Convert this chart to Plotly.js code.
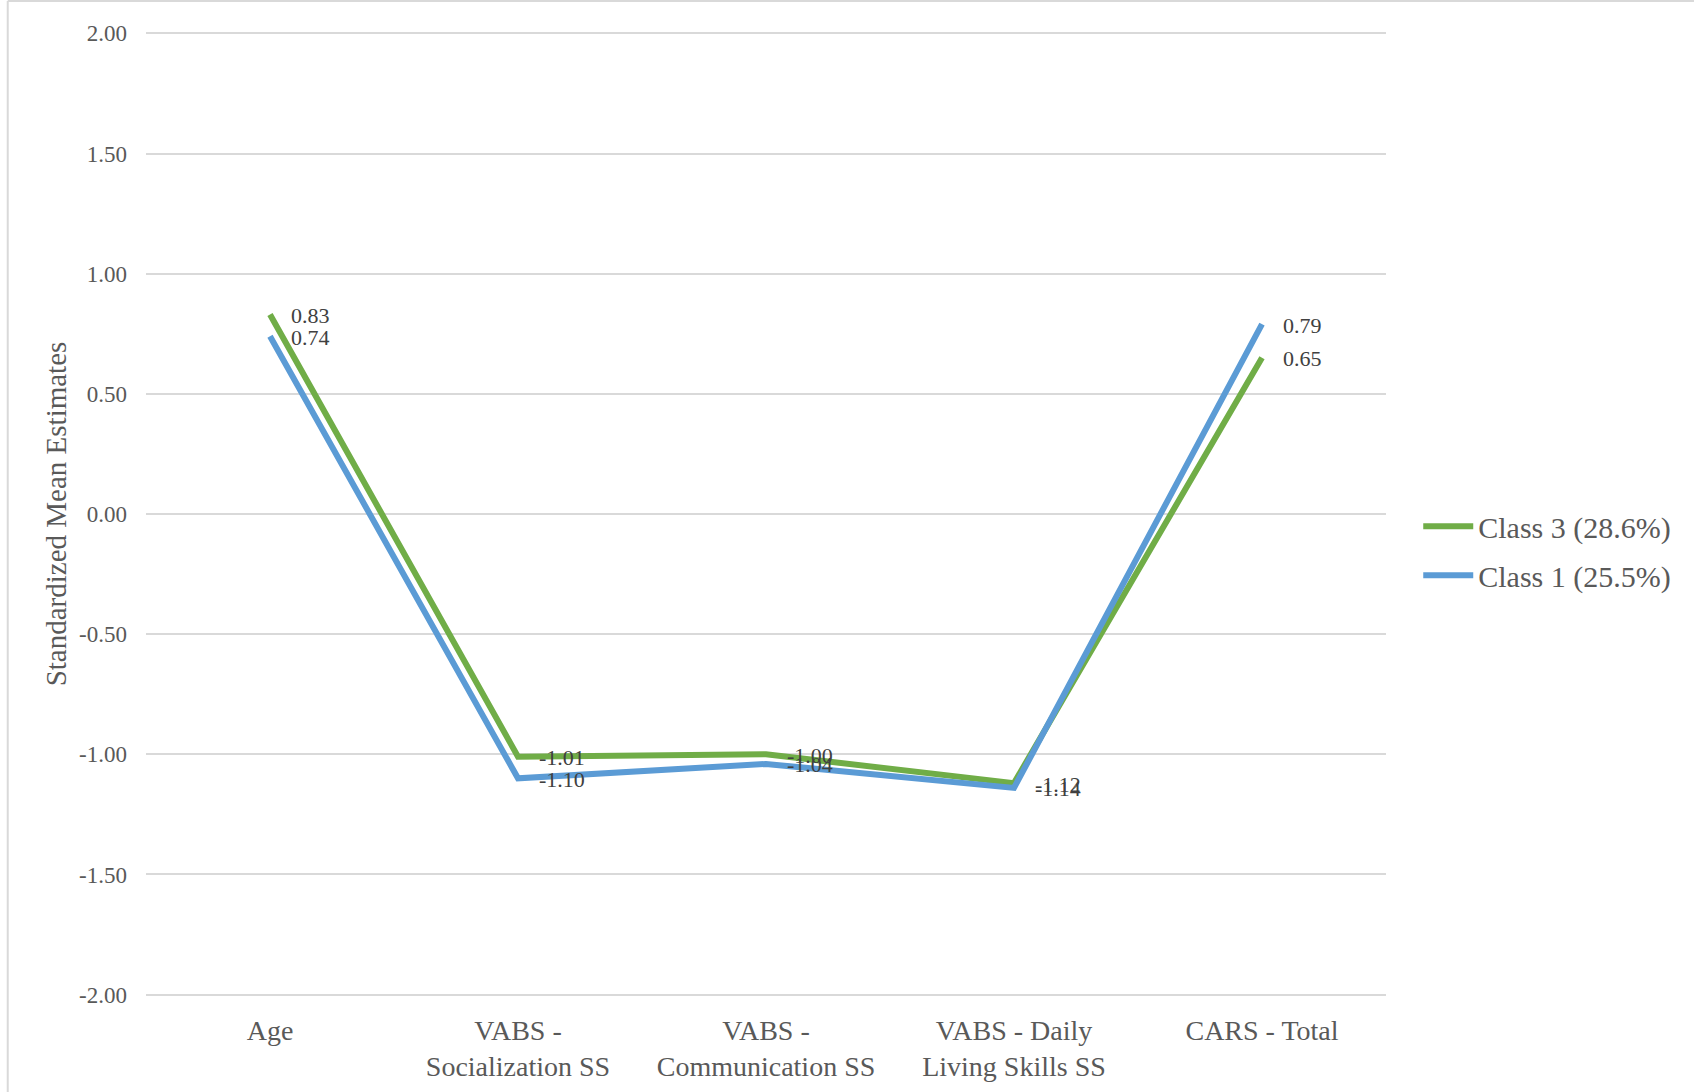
<!DOCTYPE html>
<html>
<head>
<meta charset="utf-8">
<script src="https://cdn.plot.ly/plotly-3.0.1.min.js"></script>
<style>
  html, body { margin: 0; padding: 0; background: #ffffff; }
  #chart { width: 1694px; height: 1092px; }
</style>
</head>
<body>
<div id="chart"></div>
<script>
// Profile indicators on the x axis
const categories = [
  'Age',
  'VABS -<br>Socialization SS',
  'VABS -<br>Communication SS',
  'VABS - Daily<br>Living Skills SS',
  'CARS - Total'
];

// Standardized mean estimates per latent class
const class3Name = 'Class 3 (28.6%)';
const class3Values = [0.83, -1.01, -1.00, -1.12, 0.65];

const class1Name = 'Class 1 (25.5%)';
const class1Values = [0.74, -1.10, -1.04, -1.14, 0.79];

// Y axis ticks
const yTickValues = [2, 1.5, 1, 0.5, 0, -0.5, -1, -1.5, -2];
const yTickLabels = ['2.00', '1.50', '1.00', '0.50', '0.00', '-0.50', '-1.00', '-1.50', '-2.00'];

const GREEN = '#70AD47';
const BLUE = '#5B9BD5';
const SERIF = '"Liberation Serif", "Times New Roman", serif';

function lineTrace(name, values, color) {
  return {
    type: 'scatter',
    mode: 'lines',
    name: name,
    legendgroup: name,
    x: categories,
    y: values,
    line: { color: color, width: 6 },
    hoverinfo: 'x+y+name'
  };
}

// Value labels placed just to the right of each point
function valueLabels(values) {
  return values.map((v, i) => ({
    x: categories[i],
    y: v,
    xref: 'x',
    yref: 'y',
    text: v.toFixed(2),
    showarrow: false,
    xanchor: 'left',
    yanchor: 'middle',
    xshift: 19,
    yshift: -1,
    font: { family: SERIF, size: 22, color: '#404040' }
  }));
}

const data = [
  lineTrace(class3Name, class3Values, GREEN),
  lineTrace(class1Name, class1Values, BLUE)
];

const layout = {
  width: 1694,
  height: 1092,
  margin: { l: 146, r: 308, t: 31, b: 95 },
  paper_bgcolor: '#ffffff',
  plot_bgcolor: '#ffffff',
  font: { family: SERIF, color: '#595959' },
  showlegend: true,
  legend: {
    x: 1.026,
    xanchor: 'left',
    y: 0.462,
    yanchor: 'middle',
    font: { family: SERIF, size: 30, color: '#595959' },
    tracegroupgap: 7,
    itemwidth: 50,
    bgcolor: 'rgba(0,0,0,0)'
  },
  xaxis: {
    type: 'category',
    range: [-0.5, 4.5],
    showgrid: false,
    showline: false,
    zeroline: false,
    ticks: '',
    ticklabelstandoff: 14,
    tickfont: { family: SERIF, size: 28, color: '#595959' }
  },
  yaxis: {
    range: [-2.01, 2.01],
    tickmode: 'array',
    tickvals: yTickValues,
    ticktext: yTickLabels,
    showgrid: true,
    gridcolor: '#D9D9D9',
    gridwidth: 1.5,
    zeroline: false,
    showline: false,
    ticks: '',
    ticklabelstandoff: 18,
    tickfont: { family: SERIF, size: 23, color: '#595959' },
    title: {
      text: 'Standardized Mean Estimates',
      font: { family: SERIF, size: 29, color: '#595959' },
      standoff: 3
    }
  },
  annotations: valueLabels(class3Values).concat(valueLabels(class1Values)),
  shapes: [
    // chart-area frame: left and top edges
    { type: 'line', xref: 'paper', yref: 'paper', x0: -0.1115, x1: -0.1115, y0: 1.031, y1: -0.12,
      line: { color: '#D9D9D9', width: 2 } },
    { type: 'line', xref: 'paper', yref: 'paper', x0: -0.1115, x1: 1.3, y0: 1.031, y1: 1.031,
      line: { color: '#D9D9D9', width: 2 } }
  ]
};

Plotly.newPlot('chart', data, layout, { displayModeBar: false, responsive: false });
</script>
</body>
</html>
